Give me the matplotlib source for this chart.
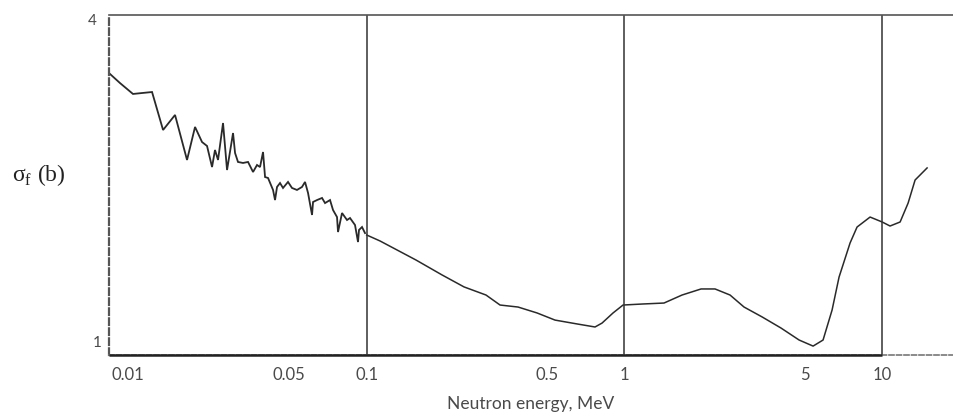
import matplotlib
matplotlib.use("Agg")
import matplotlib.pyplot as plt
import matplotlib.transforms as mtransforms
from matplotlib.ticker import NullLocator

# ---- data (neutron energy in MeV, fission cross section in barns) ----
energy_low = [0.0099, 0.01103, 0.01239, 0.01343, 0.01469, 0.01621, 0.01804, 0.02008,
              0.02157, 0.02296, 0.02401, 0.02511, 0.02578, 0.02649, 0.02770, 0.02871,
              0.03029, 0.03084, 0.03166, 0.03311, 0.03463, 0.03622, 0.03753, 0.03855,
              0.03960, 0.04032, 0.04141, 0.04330, 0.04408, 0.04487, 0.04609, 0.04734,
              0.04950, 0.05129, 0.05363, 0.05609, 0.05763, 0.05920, 0.06135, 0.06190,
              0.06415, 0.06708, 0.06891, 0.07205, 0.07401, 0.07669, 0.07738, 0.08020,
              0.08386, 0.08614, 0.09007, 0.09252, 0.09334, 0.09589, 0.09849]
sigma_low = [3.170, 3.031, 2.899, 2.910, 2.922, 2.503, 2.661, 2.215,
             2.534, 2.383, 2.345, 2.152, 2.307, 2.215, 2.575, 2.126,
             2.472, 2.279, 2.197, 2.188, 2.197, 2.109, 2.170, 2.152,
             2.288, 2.066, 2.058, 1.960, 1.881, 1.984, 2.016, 1.976,
             2.025, 1.976, 1.960, 1.984, 2.025, 1.936, 1.770, 1.866,
             1.881, 1.897, 1.858, 1.881, 1.806, 1.755, 1.651, 1.784,
             1.734, 1.748, 1.699, 1.585, 1.665, 1.685, 1.644]

energy_high = [0.1, 0.1126, 0.1553, 0.1960, 0.2385, 0.2903, 0.3291, 0.3865, 0.4580,
               0.5378, 0.6548, 0.7689, 0.8186, 0.9032, 0.9876, 1.170, 1.424, 1.673,
               1.983, 2.247, 2.569, 2.911, 3.420, 4.053, 4.761, 5.395, 5.898, 6.392,
               6.804, 7.508, 7.991, 8.977, 10.0, 10.73, 11.74, 12.61, 13.42, 14.94]
sigma_high = [1.631, 1.592, 1.473, 1.386, 1.320, 1.277, 1.226, 1.216, 1.187,
              1.153, 1.135, 1.121, 1.139, 1.187, 1.226, 1.231, 1.236, 1.277,
              1.309, 1.309, 1.277, 1.216, 1.168, 1.116, 1.063, 1.037, 1.063, 1.201,
              1.374, 1.579, 1.685, 1.755, 1.720, 1.692, 1.720, 1.858, 2.041, 2.144]

xtick_vals = [0.01, 0.05, 0.1, 0.5, 1, 5, 10]
xtick_labels = ["0.01", "0.05", "0.1", "0.5", "1", "5", "10"]
decade_lines = [0.1, 1, 10]

ink = "#2a2a2a"
label_color = "#4a4a4a"
tick_font = "Lato"

fig = plt.figure(figsize=(9.54, 4.17), dpi=100)
ax = fig.add_axes([109 / 954, 1 - 355 / 417, 1 - 109 / 954, (355 - 15) / 417])
ax.set_xscale("log")
ax.set_yscale("log")
ax.set_xlim(0.01, 19.0)
ax.set_ylim(1, 4)

ax.plot(energy_low, sigma_low, color=ink, lw=1.3, solid_joinstyle="miter")
ax.plot(energy_high, sigma_high, color=ink, lw=1.1)

for v in decade_lines:
    ax.axvline(v, color="#333333", lw=1.1)

# spines
ax.spines["right"].set_visible(False)
ax.spines["top"].set_color("#555555")
ax.spines["top"].set_linewidth(1.2)
ax.spines["left"].set_color("#555555")
ax.spines["left"].set_linewidth(1.6)
ax.spines["left"].set_linestyle((0, (3, 1.5)))
ax.spines["bottom"].set_color("#777777")
ax.spines["bottom"].set_linewidth(1.2)
ax.spines["bottom"].set_linestyle((0, (3, 1.5)))
ax.hlines(1, 0.01, 10, color="#222222", lw=1.8, clip_on=False, zorder=3)

# ticks
ax.xaxis.set_minor_locator(NullLocator())
ax.yaxis.set_minor_locator(NullLocator())
ax.set_xticks(xtick_vals)
ax.set_xticklabels(xtick_labels, fontsize=12, color=label_color, family=tick_font)
ax.tick_params(axis="x", length=0, pad=9)
lbl0 = ax.get_xticklabels()[0]
lbl0.set_horizontalalignment("left")
lbl0.set_transform(lbl0.get_transform() + mtransforms.ScaledTranslation(3 / 100, 0, fig.dpi_scale_trans))
ax.set_yticks([])

ax.annotate("4", xy=(0.01, 4), xycoords="data", xytext=(-17, -6), textcoords="offset pixels",
            ha="center", va="center", fontsize=11, color=label_color, family=tick_font,
            annotation_clip=False)
ax.annotate("1", xy=(0.01, 1), xycoords="data", xytext=(-12, 12), textcoords="offset pixels",
            ha="center", va="center", fontsize=11, color=label_color, family=tick_font,
            annotation_clip=False)

fig.text(531 / 954, 1 - 404 / 417, "Neutron energy, MeV", ha="center", va="center",
         fontsize=12.5, color=label_color, family=tick_font)
fig.text(12 / 954, 1 - 175 / 417, "σ$_{\\mathregular{f}}$ (b)", ha="left", va="center",
         fontsize=17, color="#222222", family="Liberation Serif")

fig.savefig("out.png", dpi=100)
